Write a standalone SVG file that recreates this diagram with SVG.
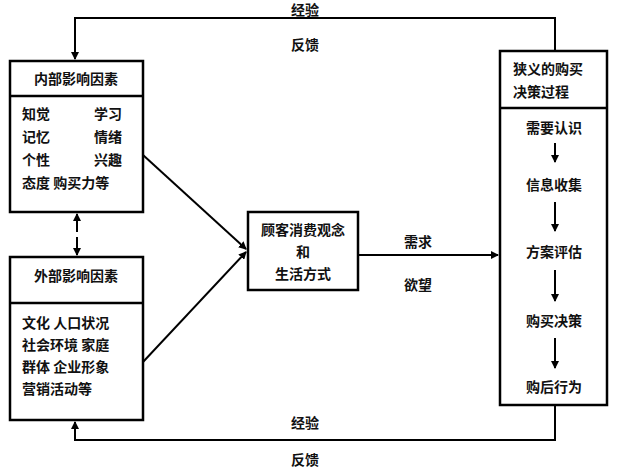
<svg xmlns="http://www.w3.org/2000/svg" width="624" height="476" viewBox="0 0 624 476">
<defs>
<marker id="a" markerWidth="8" markerHeight="8" refX="7" refY="4" orient="auto" markerUnits="userSpaceOnUse"><path d="M0,0 L8,4 L0,8 Z" fill="#000"/></marker>
<style>
text{font-family:"Noto Sans CJK SC",sans-serif;font-size:14px;font-weight:bold;fill:#111}
.b{fill:#fff;stroke:#000;stroke-width:2.5}
.l{fill:none;stroke:#000;stroke-width:2}
.m{text-anchor:middle}
</style>
</defs>
<rect width="624" height="476" fill="#fff"/>
<g id="connectors">
<path class="l" d="M555,50 V18 H75 V59" marker-end="url(#a)"/>
<path class="l" d="M555,405 V440 H75 V422" marker-end="url(#a)"/>
<path class="l" d="M77,232 V214" marker-end="url(#a)"/>
<path class="l" d="M77,237 V255" marker-end="url(#a)"/>
<path class="l" d="M143,155 L246,249" marker-end="url(#a)"/>
<path class="l" d="M143,362 L246,252" marker-end="url(#a)"/>
<path class="l" d="M358,255 H498" marker-end="url(#a)"/>
<text x="305" y="15" class="m">经验</text>
<text x="305" y="50" class="m">反馈</text>
<text x="305" y="428" class="m">经验</text>
<text x="305" y="465" class="m">反馈</text>
<text x="418" y="247" class="m">需求</text>
<text x="418" y="290" class="m">欲望</text>
</g>
<g id="inner">
<rect class="b" x="10" y="61" width="133" height="151"/>
<line class="b" x1="10" y1="96" x2="143" y2="96"/>
<text x="76" y="84" class="m">内部影响因素</text>
<text x="22" y="119">知觉</text><text x="122" y="119" text-anchor="end">学习</text>
<text x="22" y="142">记忆</text><text x="122" y="142" text-anchor="end">情绪</text>
<text x="22" y="165">个性</text><text x="122" y="165" text-anchor="end">兴趣</text>
<text x="22" y="188">态度 购买力等</text>
</g>
<g id="outer">
<rect class="b" x="10" y="257" width="133" height="163"/>
<line class="b" x1="10" y1="303" x2="143" y2="303"/>
<text x="76" y="281" class="m">外部影响因素</text>
<text x="22" y="328">文化 人口状况</text>
<text x="22" y="350">社会环境 家庭</text>
<text x="22" y="372">群体 企业形象</text>
<text x="22" y="394">营销活动等</text>
</g>
<g id="center">
<rect class="b" x="248" y="212" width="110" height="78"/>
<text x="303" y="235" class="m">顾客消费观念</text>
<text x="303" y="257" class="m">和</text>
<text x="303" y="279" class="m">生活方式</text>
</g>
<g id="process">
<rect class="b" x="500" y="51" width="107" height="354"/>
<line class="b" x1="500" y1="108" x2="607" y2="108"/>
<text x="513" y="74">狭义的购买</text>
<text x="513" y="97">决策过程</text>
<text x="554" y="133" class="m">需要认识</text>
<path class="l" d="M555,143 V162" marker-end="url(#a)"/>
<text x="554" y="190" class="m">信息收集</text>
<path class="l" d="M555,202 V231" marker-end="url(#a)"/>
<text x="554" y="257" class="m">方案评估</text>
<path class="l" d="M555,270 V301" marker-end="url(#a)"/>
<text x="554" y="326" class="m">购买决策</text>
<path class="l" d="M555,338 V368" marker-end="url(#a)"/>
<text x="554" y="392" class="m">购后行为</text>
</g>
</svg>
